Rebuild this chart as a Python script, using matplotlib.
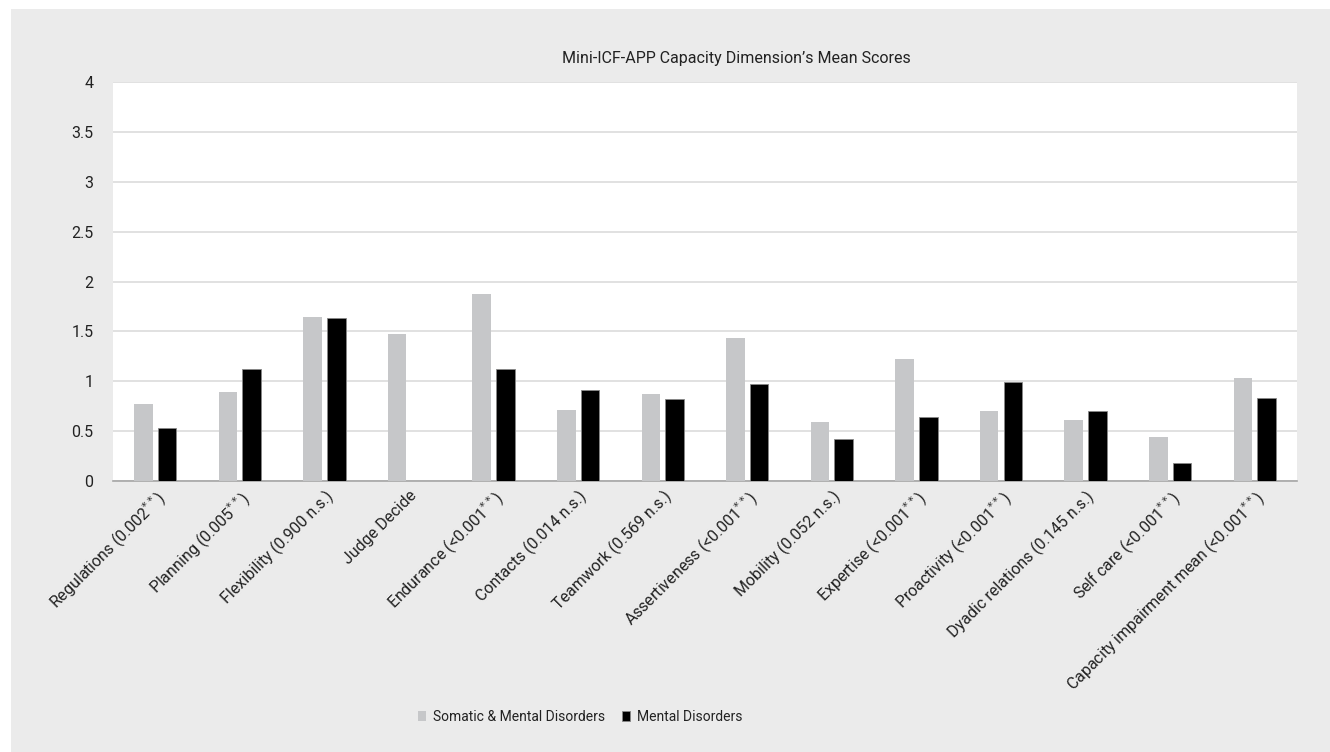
import numpy as np
import matplotlib
matplotlib.use("Agg")
import matplotlib.pyplot as plt
from matplotlib.patches import Rectangle

#%% data

categories = ["Regulations (0.002$^{**}$)", "Planning (0.005$^{**}$)", "Flexibility (0.900 n.s.)",
              "Judge Decide", "Endurance (<0.001$^{**}$)", "Contacts (0.014 n.s.)",
              "Teamwork (0.569 n.s.)", "Assertiveness (<0.001$^{**}$)", "Mobility (0.052 n.s.)",
              "Expertise (<0.001$^{**}$)", "Proactivity (<0.001$^{**}$)", "Dyadic relations (0.145 n.s.)",
              "Self care (<0.001$^{**}$)", "Capacity impairment mean (<0.001$^{**}$)"]
somatic_mental = [0.77, 0.89, 1.64, 1.47, 1.87, 0.71, 0.87, 1.43, 0.59, 1.22, 0.70, 0.61, 0.44, 1.03]
mental = [0.53, 1.12, 1.63, 0.0, 1.12, 0.91, 0.82, 0.97, 0.42, 0.64, 0.99, 0.70, 0.18, 0.83]
yticks = [0, 0.5, 1, 1.5, 2, 2.5, 3, 3.5, 4]
ytick_labels = ["0", "0.5", "1", "1.5", "2", "2.5", "3", "3.5", "4"]

#%% figure

plt.rcParams['font.family'] = ['Roboto', 'DejaVu Sans']
plt.rcParams['mathtext.fontset'] = 'dejavusans'

fig = plt.figure(figsize=(13.3, 7.52), dpi=100)
fig.patch.set_facecolor('white')
fig.patches.append(Rectangle((11/1330, 0), 1 - 11/1330, (752-9)/752, transform=fig.transFigure,
                             facecolor='#ebebeb', edgecolor='none', zorder=-10))

ax = fig.add_axes([113/1330, (752-481)/752, (1297-113)/1330, (481-82)/752])
ax.set_facecolor('white')

x = np.arange(len(categories))
w = 0.22
ax.bar(x - 0.14, somatic_mental, w, color='#c6c7c9', label='Somatic & Mental Disorders', zorder=3)
ax.bar(x + 0.14, mental, w, color='black', edgecolor='#888888', linewidth=0.6,
       label='Mental Disorders', zorder=3)

ax.set_xlim(-0.5, len(categories) - 0.5)
ax.set_ylim(0, 4)
ax.set_yticks(yticks)
ax.set_yticklabels(ytick_labels, fontsize=11.5, color='#222222')
ax.yaxis.grid(True, color='#dcdcdc', linewidth=1.2, zorder=0)
ax.set_xticks(x)
ax.set_xticklabels(categories, rotation=45, ha='right', rotation_mode='anchor',
                   fontsize=11.5, color='#222222')
ax.tick_params(axis='both', length=0)
ax.tick_params(axis='x', pad=5)
ax.tick_params(axis='y', pad=14)
for s in ['top', 'right', 'left']:
    ax.spines[s].set_visible(False)
ax.spines['bottom'].set_color('#a6a6a6')
ax.spines['bottom'].set_linewidth(1.2)

fig.text(736/1330, (752-58)/752, "Mini-ICF-APP Capacity Dimension\u2019s Mean Scores",
         ha='center', va='center', fontsize=11.5, color='#222222')

leg = fig.legend(loc='center', bbox_to_anchor=(580/1330, (752-717)/752), ncol=2, frameon=False,
                 fontsize=10, handlelength=0.6, handleheight=0.7, columnspacing=1.2,
                 handletextpad=0.5)
for t in leg.get_texts():
    t.set_color('#222222')

fig.savefig('out.png', dpi=100)
